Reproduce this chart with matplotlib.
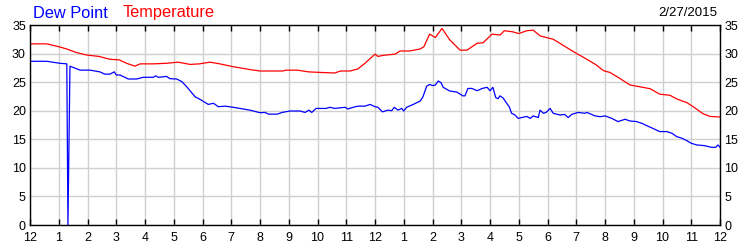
import matplotlib
matplotlib.use("Agg")
import matplotlib.pyplot as plt

# Temperature readings (hours since midnight, degrees)
temp_hours = [0, 0.58, 1.0, 1.28, 1.6, 1.97, 2.4, 2.78, 3.1, 3.36, 3.65, 3.83,
              4.3, 4.75, 5.15, 5.57, 5.9, 6.26, 6.6, 7.07, 7.65, 8.0, 8.8, 8.9,
              9.3, 9.68, 10.1, 10.6, 10.8, 11.13, 11.4, 11.65, 12.0, 12.1, 12.3,
              12.7, 12.87, 13.2, 13.57, 13.7, 13.9, 14.1, 14.33, 14.6, 14.96,
              15.2, 15.55, 15.76, 16.07, 16.35, 16.5, 16.8, 17.0, 17.28, 17.5,
              17.6, 17.74, 17.97, 18.2, 18.43, 18.67, 19.0, 19.37, 19.7, 19.95,
              20.17, 20.5, 20.87, 21.2, 21.57, 21.9, 22.26, 22.5, 22.85, 23.07,
              23.4, 23.65, 24.0]
temp_values = [31.7, 31.7, 31.2, 30.8, 30.2, 29.75, 29.5, 29.0, 28.9, 28.3, 27.8, 28.2,
               28.2, 28.3, 28.5, 28.1, 28.2, 28.5, 28.2, 27.7, 27.2, 26.95, 26.95, 27.1,
               27.1, 26.8, 26.7, 26.6, 26.95, 26.95, 27.3, 28.3, 29.9, 29.5, 29.7,
               29.9, 30.45, 30.45, 30.8, 31.2, 33.4, 32.8, 34.4, 32.4, 30.6,
               30.6, 31.8, 31.9, 33.4, 33.25, 34.0, 33.8, 33.5, 34.0, 34.1,
               33.7, 33.1, 32.8, 32.5, 31.8, 31.05, 30.05, 29.0, 28.0, 27.0,
               26.7, 25.7, 24.5, 24.2, 23.85, 22.9, 22.7, 22.05, 21.4, 20.7,
               19.5, 19.0, 18.9]

# Dew point readings
dew_hours = [0, 0.58, 1.04, 1.28, 1.32, 1.39, 1.74, 2.09, 2.43, 2.6, 2.78, 2.93,
             3.0, 3.13, 3.42, 3.71, 3.94, 4.29, 4.37, 4.46, 4.75, 4.87, 5.1, 5.28,
             5.45, 5.74, 5.91, 6.2, 6.38, 6.55, 6.78, 7.07, 7.65, 8.0, 8.17, 8.3,
             8.6, 8.77, 9.04, 9.39, 9.57, 9.7, 9.8, 9.95, 10.3, 10.43, 10.6, 10.96,
             11.06, 11.24, 11.41, 11.65, 11.83, 12.0, 12.1, 12.26, 12.45, 12.58,
             12.67, 12.8, 12.93, 13.0, 13.1, 13.33, 13.57, 13.66, 13.8, 13.9, 14.0,
             14.1, 14.2, 14.3, 14.37, 14.6, 14.85, 15.06, 15.13, 15.23, 15.37,
             15.55, 15.73, 15.9, 16.0, 16.1, 16.2, 16.28, 16.35, 16.46, 16.58,
             16.67, 16.75, 16.87, 16.98, 17.1, 17.28, 17.4, 17.5, 17.68, 17.74,
             17.86, 17.95, 18.09, 18.2, 18.43, 18.6, 18.72, 18.84, 19.06, 19.3,
             19.37, 19.65, 19.83, 20.0, 20.24, 20.45, 20.7, 20.87, 21.1, 21.33,
             21.4, 21.67, 21.9, 22.15, 22.33, 22.5, 22.67, 22.85, 23.0, 23.2,
             23.45, 23.7, 23.85, 23.93, 24.0]
dew_values = [28.65, 28.65, 28.3, 28.2, 0.0, 27.8, 27.1, 27.1, 26.8, 26.4, 26.4, 26.8,
              26.25, 26.25, 25.55, 25.55, 25.85, 25.85, 26.1, 25.85, 26.0, 25.6, 25.55, 25.1,
              24.2, 22.45, 22.0, 21.1, 21.3, 20.7, 20.8, 20.6, 20.1, 19.65, 19.7, 19.4,
              19.4, 19.7, 19.95, 19.95, 19.7, 20.1, 19.7, 20.4, 20.4, 20.6, 20.4, 20.6,
              20.3, 20.6, 20.8, 20.8, 21.1, 20.7, 20.6, 19.8, 20.1, 20.0,
              20.6, 20.1, 20.4, 19.95, 20.6, 21.1, 21.7, 22.35, 24.3, 24.6, 24.4,
              24.5, 25.2, 24.9, 24.1, 23.45, 23.25, 22.6, 22.6, 23.9, 23.9,
              23.5, 23.9, 24.1, 23.5, 24.1, 22.3, 22.1, 22.6, 22.2, 21.3,
              20.7, 19.55, 19.25, 18.65, 18.8, 19.0, 18.65, 19.1, 18.8, 20.1,
              19.55, 19.7, 20.4, 19.55, 19.25, 19.35, 18.8, 19.35, 19.7, 19.55,
              19.7, 19.1, 18.95, 19.1, 18.65, 18.1, 18.5, 18.2, 18.1, 17.7,
              17.5, 16.9, 16.35, 16.35, 16.05, 15.45, 15.2, 14.75, 14.3, 14.0,
              13.9, 13.6, 13.6, 14.0, 13.6]

hour_ticks = list(range(0, 25))
hour_labels = [str((h - 1) % 12 + 1) for h in hour_ticks]
y_ticks = [0, 5, 10, 15, 20, 25, 30, 35]

plt.rcParams['font.family'] = ['Liberation Sans', 'DejaVu Sans']

fig = plt.figure(figsize=(7.5, 2.5), dpi=100)
ax = fig.add_axes([0.04, 0.1, 0.92, 0.8])

ax.plot(temp_hours, temp_values, color='#ff0000', lw=0.9)
ax.plot(dew_hours, dew_values, color='#0000ff', lw=0.9)

ax.set_xlim(0, 24)
ax.set_ylim(0, 35)
ax.set_xticks(hour_ticks)
ax.set_xticklabels(hour_labels)
ax.set_yticks(y_ticks)
ax.grid(True, color='#d0d0d0', lw=1.0)
ax.set_axisbelow(True)

ax.tick_params(axis='x', direction='in', length=4, width=1, top=True,
               labelsize=9, pad=5, colors='black')
ax.tick_params(axis='y', length=0, labelsize=9, right=True, labelright=True, pad=3)
for s in ax.spines.values():
    s.set_linewidth(1.0)

fig.text(0.044, 0.948, 'Dew Point', color='#0000ff', fontsize=11.8, va='center')
fig.text(0.164, 0.948, 'Temperature', color='#ff0000', fontsize=11.8, va='center')
fig.text(0.957, 0.948, '2/27/2015', color='black', fontsize=9.5, ha='right', va='center')

fig.savefig('out.png', dpi=100)
